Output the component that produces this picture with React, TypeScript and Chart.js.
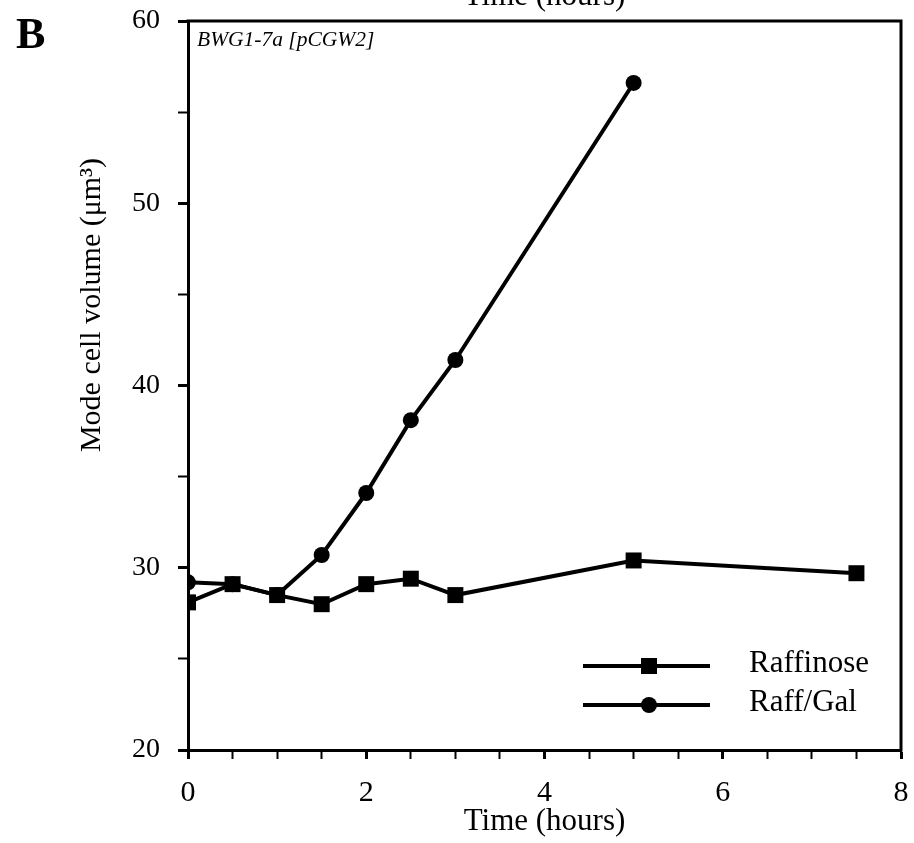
import React, { useEffect, useRef } from "react";
import { Chart, registerables } from "chart.js";

Chart.register(...registerables);

// ---- data ----
const raffTimes = [0, 0.5, 1, 1.5, 2, 2.5, 3, 5, 7.5];
const raffinoseValues = [28.1, 29.1, 28.5, 28.0, 29.1, 29.4, 28.5, 30.4, 29.7];
const galTimes = [0, 0.5, 1, 1.5, 2, 2.5, 3, 5];
const raffGalValues = [29.2, 29.1, 28.5, 30.7, 34.1, 38.1, 41.4, 56.6];

const seriesLabels = ["Raffinose", "Raff/Gal"];
const xTickLabels = [0, 2, 4, 6, 8];
const yTickLabels = [20, 30, 40, 50, 60];

const panelLetter = "B";
const strainLabel = "BWG1-7a [pCGW2]";
const xTitle = "Time (hours)";
const yTitle = "Mode cell volume (μm³)";
const aboveTitle = "Time (hours)";

const FONT = "'Liberation Serif', 'Times New Roman', serif";

const decorPlugin = {
  id: "decor",
  afterDraw(chart: any) {
    const { ctx, chartArea } = chart;
    const { left, right, top, bottom } = chartArea;
    ctx.save();
    // frame top + right
    ctx.strokeStyle = "#000";
    ctx.lineWidth = 3;
    ctx.beginPath();
    ctx.moveTo(left - 1.5, top);
    ctx.lineTo(right, top);
    ctx.lineTo(right, bottom + 1.5);
    ctx.stroke();

    ctx.fillStyle = "#000";
    // panel letter
    ctx.font = `bold 44px ${FONT}`;
    ctx.textAlign = "left";
    ctx.textBaseline = "alphabetic";
    ctx.fillText(panelLetter, 16, 48);
    // strain label
    ctx.font = `italic 21.5px ${FONT}`;
    ctx.fillText(strainLabel, left + 9, top + 25);
    // cut-off title from panel above
    ctx.font = `31px ${FONT}`;
    ctx.textAlign = "center";
    ctx.fillText(aboveTitle, (left + right) / 2, 5);

    // y axis title
    ctx.save();
    ctx.translate(92, 305);
    ctx.rotate(-Math.PI / 2);
    ctx.font = `30px ${FONT}`;
    ctx.textAlign = "center";
    ctx.textBaseline = "middle";
    ctx.fillText(yTitle, 0, 0);
    ctx.restore();

    // legend
    const rows = [666, 705];
    chart.data.datasets.forEach((ds: any, i: number) => {
      const y = rows[i];
      const x0 = left + 395;
      const x1 = left + 522;
      const xm = left + 461;
      ctx.strokeStyle = ds.borderColor;
      ctx.lineWidth = ds.borderWidth;
      ctx.beginPath();
      ctx.moveTo(x0, y);
      ctx.lineTo(x1, y);
      ctx.stroke();
      ctx.fillStyle = ds.pointBackgroundColor;
      ctx.beginPath();
      if (ds.pointStyle === "rect") {
        const s = ds.pointRadius * Math.SQRT1_2;
        ctx.rect(xm - s, y - s, 2 * s, 2 * s);
      } else {
        ctx.arc(xm, y, ds.pointRadius, 0, Math.PI * 2);
      }
      ctx.fill();
      ctx.fillStyle = "#000";
      ctx.font = `31px ${FONT}`;
      ctx.textAlign = "left";
      ctx.textBaseline = "alphabetic";
      ctx.fillText(ds.label, left + 561, y + 6);
    });
    ctx.restore();
  },
};

export default function App() {
  const ref = useRef<HTMLCanvasElement | null>(null);

  useEffect(() => {
    if (!ref.current) return;
    const chart = new Chart(ref.current, {
      type: "line",
      data: {
        datasets: [
          {
            label: seriesLabels[0],
            data: raffTimes.map((t, i) => ({ x: t, y: raffinoseValues[i] })),
            borderColor: "#000",
            backgroundColor: "#000",
            pointBackgroundColor: "#000",
            pointBorderColor: "#000",
            borderWidth: 4,
            pointStyle: "rect",
            pointRadius: 11.3,
            pointBorderWidth: 0,
            tension: 0,
          },
          {
            label: seriesLabels[1],
            data: galTimes.map((t, i) => ({ x: t, y: raffGalValues[i] })),
            borderColor: "#000",
            backgroundColor: "#000",
            pointBackgroundColor: "#000",
            pointBorderColor: "#000",
            borderWidth: 4,
            pointStyle: "circle",
            pointRadius: 8,
            pointBorderWidth: 0,
            tension: 0,
          },
        ] as any,
      },
      plugins: [decorPlugin],
      options: {
        responsive: false,
        animation: false,
        events: [],
        layout: { padding: { left: 0, top: 21, right: 13, bottom: 0 } },
        plugins: {
          legend: { display: false },
          tooltip: { enabled: false },
          title: { display: false },
        },
        scales: {
          x: {
            type: "linear",
            min: 0,
            max: 8,
            afterFit(scale: any) {
              scale.height = 93;
              scale.paddingLeft = 0;
              scale.paddingRight = 0;
            },
            border: { display: true, color: "#000", width: 3 },
            grid: {
              drawOnChartArea: false,
              drawTicks: true,
              tickLength: 9,
              tickColor: "#000",
              tickWidth: (c: any) => (xTickLabels.includes(c.tick?.value) ? 3 : 2),
            },
            ticks: {
              stepSize: 0.5,
              autoSkip: false,
              maxRotation: 0,
              padding: 16,
              color: "#000",
              font: { family: FONT, size: 30 },
              callback: (v: any) => (xTickLabels.includes(Number(v)) ? String(v) : ""),
            },
            title: {
              display: true,
              text: xTitle,
              color: "#000",
              font: { family: FONT, size: 31 },
              padding: { top: 0, bottom: 2.5 },
            },
          },
          y: {
            type: "linear",
            min: 20,
            max: 60,
            afterFit(scale: any) {
              scale.width = 188;
              scale.paddingTop = 0;
              scale.paddingBottom = 0;
            },
            border: { display: true, color: "#000", width: 3 },
            grid: {
              drawOnChartArea: false,
              drawTicks: true,
              tickLength: 10,
              tickColor: "#000",
              tickWidth: (c: any) => (yTickLabels.includes(c.tick?.value) ? 3 : 2),
            },
            ticks: {
              stepSize: 5,
              autoSkip: false,
              padding: 18,
              color: "#000",
              font: { family: FONT, size: 28 },
              callback: (v: any) => (yTickLabels.includes(Number(v)) ? String(v) : ""),
            },
            title: { display: false },
          },
        },
      } as any,
    });
    return () => chart.destroy();
  }, []);

  return (
    <div style={{ position: "absolute", left: 0, top: 0, width: 914, height: 843, background: "#fff" }}>
      <canvas ref={ref} width={914} height={843} style={{ display: "block" }} />
    </div>
  );
}
